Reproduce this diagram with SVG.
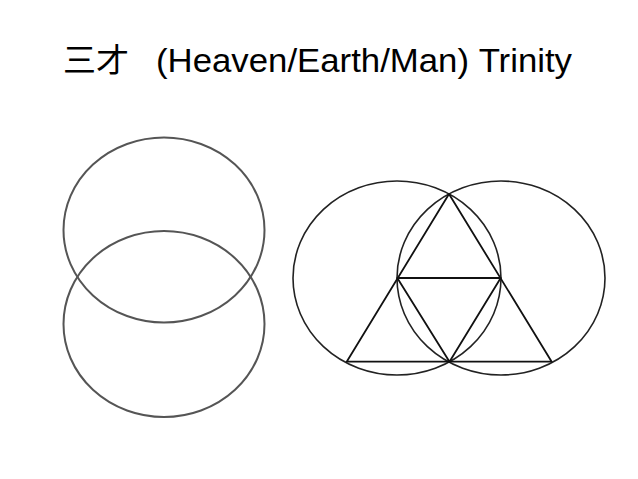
<svg xmlns="http://www.w3.org/2000/svg" width="638" height="479" viewBox="0 0 638 479">
<style>
.t{font-family:"Liberation Sans","Noto Sans CJK SC",Arial,sans-serif;font-size:33px;fill:#000}
.l{fill:none;stroke:#555;stroke-width:2}
.r{fill:none;stroke:#222;stroke-width:1.6}
.tri{fill:none;stroke:#111;stroke-width:1.8;stroke-linejoin:round}
</style>
<rect width="638" height="479" fill="#fff"/>
<g id="title">
<text class="t" y="72"><tspan x="63">三才 </tspan><tspan x="156" textLength="416" lengthAdjust="spacingAndGlyphs">(Heaven/Earth/Man) Trinity</tspan></text>
</g>
<g id="left-top"><ellipse class="l" cx="164" cy="230" rx="100.5" ry="92.5"/></g>
<g id="left-bottom"><ellipse class="l" cx="164" cy="324" rx="100.5" ry="93"/></g>
<g id="right-left"><ellipse class="r" cx="397" cy="278" rx="104" ry="97"/></g>
<g id="right-right"><ellipse class="r" cx="501" cy="278" rx="104" ry="97"/></g>
<g id="triangles">
<polygon class="tri" points="449,194 551.7,361.7 346.7,361.7"/>
<polygon class="tri" points="397.3,278 500.7,278 449.5,361.7"/>
</g>
</svg>
